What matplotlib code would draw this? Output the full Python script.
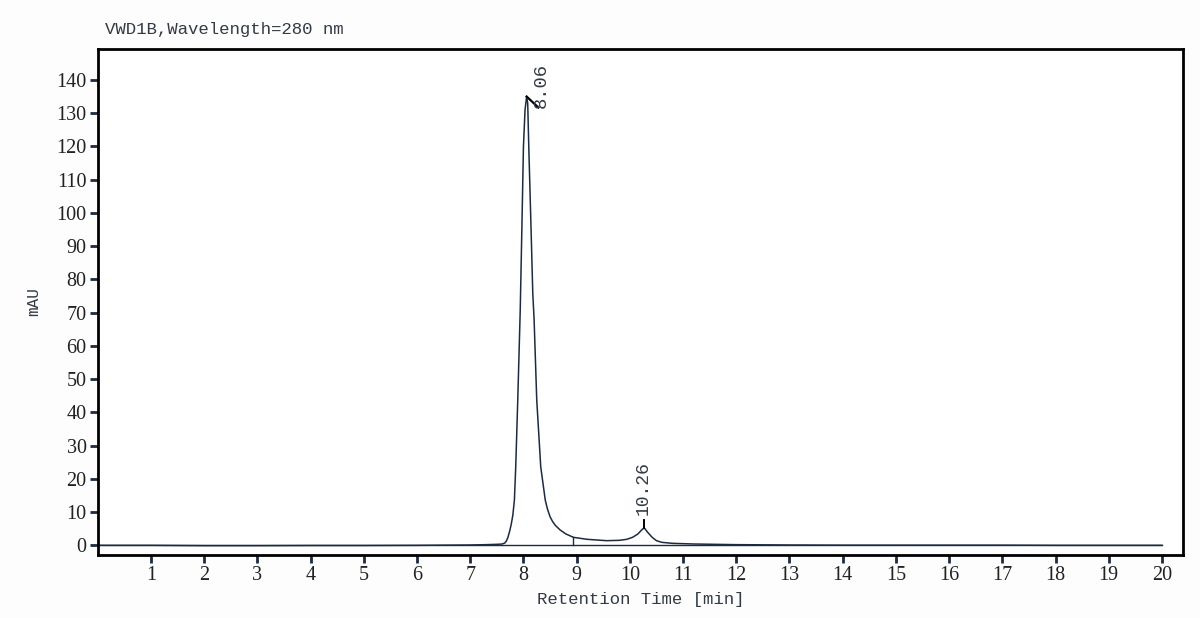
import matplotlib
matplotlib.use("Agg")
import matplotlib.pyplot as plt

# chromatogram trace (time in min, signal in mAU)
time_min = [0, 1, 2, 3, 4, 5, 6, 6.5, 7, 7.3, 7.5, 7.6, 7.65, 7.68, 7.71,
            7.74, 7.77, 7.80, 7.83, 7.855, 7.893, 7.94, 7.97, 8.00, 8.03,
            8.06, 8.08, 8.10, 8.14, 8.175, 8.20, 8.25, 8.325, 8.41, 8.45,
            8.50, 8.55, 8.60, 8.69, 8.80, 8.94, 9.20, 9.56, 9.80, 9.94,
            10.05, 10.15, 10.22, 10.27, 10.33, 10.42, 10.50, 10.60, 10.80,
            11.2, 12, 13, 14, 15, 16, 17, 18, 19, 20]
signal_mau = [0.0, 0.0, -0.1, -0.1, -0.05, -0.05, 0.0, 0.05, 0.1, 0.2, 0.3,
              0.4, 0.7, 1.3, 2.5, 4.2, 6.3, 9.0, 13.6, 23.6, 43.7, 71.0,
              95.0, 120.0, 131.0, 135.0, 133.0, 120.0, 97.0, 76.0, 68.0,
              43.7, 23.6, 13.6, 11.0, 8.6, 7.1, 6.0, 4.6, 3.4, 2.4, 1.8,
              1.4, 1.5, 1.8, 2.4, 3.4, 4.6, 5.3, 4.0, 2.4, 1.4, 0.9, 0.6,
              0.4, 0.2, 0.1, 0.05, 0.05, 0.05, 0.05, 0.0, 0.0, 0.0]

peak_labels = ["8.06", "10.26"]
peak_times = [8.06, 10.26]
peak_heights = [135.0, 5.3]
split_time = 8.94
split_height = 2.4

line_color = "#1c2b40"
mono = "Liberation Mono"
serif = "Liberation Serif"

fig = plt.figure(figsize=(12, 6.18), dpi=100)
fig.patch.set_facecolor("#fdfdfd")
ax = fig.add_axes([0.0815, 0.102, 0.9045, 0.8187])
ax.set_facecolor("white")

# baseline and signal
ax.plot([0, 20], [0, 0], color=line_color, lw=1.0)
ax.plot(time_min, signal_mau, color=line_color, lw=1.1)

# integration split marker
ax.plot([split_time, split_time], [0, split_height], color=line_color, lw=1.0)

# peak apex markers and labels
ax.plot([peak_times[0], peak_times[0] + 0.22],
        [peak_heights[0], peak_heights[0] - 3.3], color="black", lw=1.6)
ax.text(peak_times[0] + 0.27, peak_heights[0] - 3.5, peak_labels[0],
        rotation=90, ha="center", va="bottom", fontsize=13.5,
        family=mono, color="#333a44")
ax.plot([peak_times[1], peak_times[1]], [peak_heights[1], peak_heights[1] + 2.2],
        color="black", lw=1.4)
ax.text(peak_times[1], peak_heights[1] + 3.8, peak_labels[1],
        rotation=90, ha="center", va="bottom", fontsize=13,
        family=mono, color="#333a44")

ax.set_xlim(0, 20.4)
ax.set_ylim(-2.9, 149.3)
ax.set_xticks(range(1, 21))
ax.set_yticks(range(0, 141, 10))

for s in ax.spines.values():
    s.set_linewidth(2.0)
    s.set_color("black")

ax.tick_params(axis="both", direction="out", length=6, width=2,
               color=line_color, labelsize=14.5, labelcolor="#222222", pad=2)
for lab in ax.get_xticklabels() + ax.get_yticklabels():
    lab.set_family(serif)

ax.set_xlabel("Retention Time [min]", family=mono, fontsize=12.5,
              color="#333a44", labelpad=5)
ax.set_ylabel("mAU", family=mono, fontsize=11.5, color="#333a44", labelpad=11)
fig.text(0.0875, 0.952, "VWD1B,Wavelength=280 nm", family=mono,
         fontsize=12.5, color="#333a44", ha="left", va="center")

fig.savefig("out.png", dpi=100)
